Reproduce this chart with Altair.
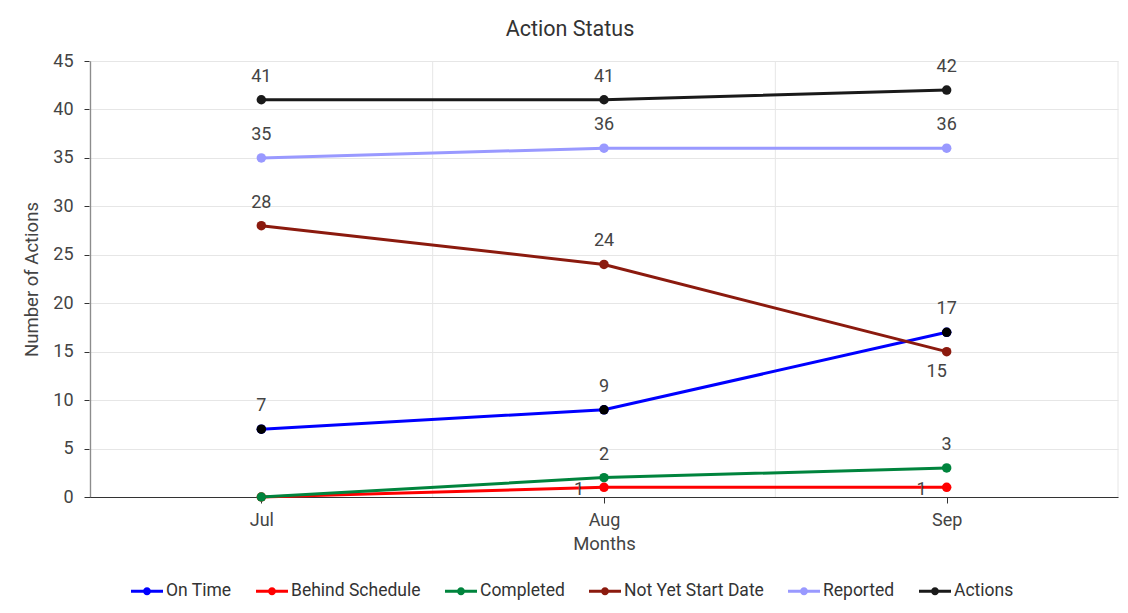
import json
import altair as alt
import pandas as pd

months = ["Jul", "Aug", "Sep"]
series_names = ["On Time", "Behind Schedule", "Completed", "Not Yet Start Date", "Reported", "Actions"]
series_colors = ["#0000FF", "#FF0000", "#00843D", "#8B1A0E", "#9999FF", "#1A1A1A"]

on_time = [7, 9, 17]
behind_schedule = [0, 1, 1]
completed = [0, 2, 3]
not_yet_start = [28, 24, 15]
reported = [35, 36, 36]
actions = [41, 41, 42]

series_values = [on_time, behind_schedule, completed, not_yet_start, reported, actions]

rows = []
for s_i, (name, vals) in enumerate(zip(series_names, series_values)):
    for m_i, (m, v) in enumerate(zip(months, vals)):
        rows.append({"series": name, "order": s_i, "month": m, "idx": m_i, "value": v})
df = pd.DataFrame(rows)

grid_df = pd.DataFrame({"idx": [i - 0.5 for i in range(len(months) + 1)]})

FONT = "Roboto"
TXT = "#444444"

x_enc = alt.X(
    "idx:Q",
    scale=alt.Scale(domain=[-0.5, len(months) - 0.5], nice=False, zero=False),
    axis=alt.Axis(
        values=list(range(len(months))),
        labelExpr=json.dumps(months) + "[datum.value]",
        title="Months",
        grid=False,
        tickSize=6,
        labelPadding=8,
        titlePadding=5,
    ),
)
y_enc = alt.Y(
    "value:Q",
    scale=alt.Scale(domain=[0, 45], nice=False),
    axis=alt.Axis(
        values=list(range(0, 46, 5)),
        title="Number of Actions",
        grid=True,
        gridColor="#e6e6e6",
        tickSize=6,
        labelPadding=11,
        titlePadding=11,
    ),
)
color_scale = alt.Scale(domain=series_names, range=series_colors)

legend = alt.Legend(
    title=None,
    orient="none",
    legendX=41,
    legendY=514,
    direction="horizontal",
    columns=6,
    symbolType="M-1,-0.094H1V0.094H-1Z M0.25,0 A0.25,0.25 0 1,1 -0.25,0 A0.25,0.25 0 1,1 0.25,0Z",
    symbolSize=1024,
    symbolStrokeWidth=0,
    symbolOpacity=1,
    labelFontSize=17.5,
    labelFont=FONT,
    labelColor="#333333",
    labelOffset=3,
    columnPadding=24,
)
color_enc = alt.Color("series:N", scale=color_scale, sort=series_names, legend=legend)

grid = alt.Chart(grid_df).mark_rule(color="#e6e6e6", strokeWidth=1).encode(x=x_enc)

base = alt.Chart(df)

lines = base.mark_line(strokeWidth=3).encode(
    x=x_enc,
    y=y_enc,
    color=color_enc,
    detail="series:N",
    order="idx:Q",
)

points = base.mark_point(filled=True, size=90, opacity=1).encode(
    x=x_enc,
    y=y_enc,
    color=color_enc,
)

ontime_points = base.mark_point(filled=True, size=90, opacity=1, color="#000000").encode(
    x=x_enc, y=y_enc
).transform_filter(alt.datum.series == "On Time")

label_base = base.transform_filter(alt.datum.value > 0)
LBL = dict(fontSize=18, font=FONT, color=TXT)

labels_above = label_base.transform_filter(
    (alt.datum.series != "Behind Schedule")
    & ~((alt.datum.series == "Not Yet Start Date") & (alt.datum.month == "Sep"))
).mark_text(dy=-23, **LBL).encode(x=x_enc, y=y_enc, text="value:Q")

labels_below = label_base.transform_filter(
    (alt.datum.series == "Not Yet Start Date") & (alt.datum.month == "Sep")
).mark_text(dy=20, dx=-10, **LBL).encode(x=x_enc, y=y_enc, text="value:Q")

labels_left = label_base.transform_filter(
    alt.datum.series == "Behind Schedule"
).mark_text(dx=-25, dy=3, **LBL).encode(x=x_enc, y=y_enc, text="value:Q")

chart = (
    alt.layer(grid, lines, points, ontime_points, labels_above, labels_below, labels_left)
    .properties(
        width=1028,
        height=436,
        title=alt.TitleParams(
            "Action Status",
            fontSize=21.5,
            font=FONT,
            fontWeight="normal",
            color="#333333",
            anchor="middle",
            dx=-34,
            offset=12,
        ),
        autosize=alt.AutoSizeParams(type="none"),
        padding={"left": 82, "top": 53, "right": 2, "bottom": 108},
    )
    .configure_view(stroke=None)
    .configure_axis(
        labelFont=FONT,
        titleFont=FONT,
        labelFontSize=18,
        titleFontSize=18.5,
        labelColor=TXT,
        titleColor=TXT,
        titleFontWeight="normal",
        domainColor="#333333",
        tickColor="#333333",
        domainWidth=1.2,
    )
)

chart.save("out.html", embed_options={"renderer": "svg", "actions": False})
